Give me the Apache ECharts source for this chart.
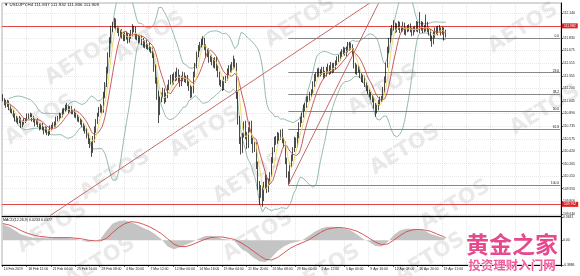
<!DOCTYPE html>
<html><head><meta charset="utf-8">
<script src="https://cdn.jsdelivr.net/npm/echarts@6/dist/echarts.min.js"></script>
<style>html,body{margin:0;padding:0;background:#fff}#c{width:580px;height:276px}</style>
</head><body><div id="c"></div>
<script>
// ---------- data (USDJPY H4) ----------
const firstOpen = 111.10;
const closes = [
111.06,111.02,110.99,111.03,110.97,110.93,110.91,110.87,110.83,110.81,
110.79,110.82,110.75,110.77,110.80,110.81,110.85,110.86,110.87,110.83,
110.81,110.77,110.79,110.75,110.72,110.74,110.71,110.67,110.69,110.65,
110.66,110.70,110.72,110.76,110.75,110.81,110.83,110.87,110.86,110.91,
110.93,110.96,110.97,110.93,110.95,110.91,110.92,110.88,110.86,110.82,
110.81,110.79,110.75,110.71,110.67,110.62,110.56,110.50,110.44,110.56,
110.69,110.79,110.87,110.93,110.96,110.93,111.12,111.25,111.43,111.62,
111.80,111.93,111.99,112.03,111.95,111.93,111.88,111.90,111.85,111.83,
111.87,111.84,111.80,111.85,111.89,111.95,111.93,111.85,111.83,111.80,
111.83,111.78,111.74,111.77,111.72,111.73,111.69,111.68,111.62,111.46,
111.31,111.12,110.91,111.06,111.12,111.16,111.06,111.12,111.21,111.28,
111.33,111.28,111.37,111.33,111.41,111.33,111.26,111.33,111.37,111.31,
111.33,111.26,111.21,111.12,111.18,111.37,111.49,111.62,111.71,111.74,
111.78,111.80,111.71,111.62,111.66,111.56,111.58,111.53,111.49,111.56,
111.46,111.37,111.28,111.25,111.21,111.31,111.33,111.41,111.46,111.43,
111.48,111.53,111.49,111.12,110.81,110.56,110.44,110.62,110.75,110.62,
110.50,110.69,110.75,110.56,110.44,110.50,110.25,110.00,109.88,109.96,
109.84,110.00,110.09,109.94,110.04,110.13,110.31,110.44,110.56,110.54,
110.62,110.59,110.65,110.56,110.50,110.31,110.13,110.06,110.25,110.34,
110.44,110.56,110.50,110.62,110.75,110.81,110.87,110.96,110.99,111.06,
111.08,111.12,111.16,111.25,111.33,111.37,111.41,111.38,111.41,111.43,
111.36,111.39,111.43,111.46,111.41,111.49,111.43,111.48,111.52,111.56,
111.59,111.62,111.66,111.68,111.64,111.68,111.71,111.74,111.71,111.66,
111.49,111.41,111.46,111.43,111.37,111.31,111.33,111.25,111.21,111.16,
111.12,111.10,111.06,110.99,110.93,110.96,111.03,111.06,111.08,111.18,
111.31,111.49,111.68,111.80,111.90,111.95,111.99,111.93,111.97,111.99,
111.93,111.95,111.98,111.90,111.93,111.95,111.97,111.93,111.89,111.93,
111.95,111.99,111.93,111.95,112.00,111.93,111.95,111.99,111.93,111.90,
111.83,111.78,111.87,111.93,111.90,111.95,111.93,111.90,111.93,111.837,
111.909];
const wickUp = [
.03,.02,.04,.03,.02,.03,.02,.03,.02,.03, .03,.04,.02,.03,.03,.02,.04,.03,.03,.02,
.03,.02,.03,.04,.02,.03,.03,.02,.04,.03, .03,.04,.03,.02,.03,.04,.03,.03,.02,.04,
.03,.04,.05,.02,.03,.03,.02,.03,.03,.02, .03,.02,.03,.02,.03,.04,.03,.02,.04,.05,
.04,.03,.03,.04,.05,.03,.04,.03,.04,.03, .04,.05,.04,.05,.04,.03,.04,.03,.04,.05,
.03,.04,.05,.03,.04,.05,.03,.04,.03,.04, .04,.03,.05,.03,.04,.03,.04,.03,.03,.04,
.04,.03,.05,.04,.03,.05,.04,.03,.04,.03, .04,.05,.03,.04,.05,.03,.04,.03,.04,.03,
.03,.04,.03,.04,.05,.04,.03,.04,.03,.04, .04,.05,.03,.04,.03,.04,.03,.04,.05,.03,
.04,.03,.04,.03,.05,.04,.03,.04,.03,.04, .05,.08,.04,.03,.04,.05,.04,.03,.04,.05,
.04,.03,.04,.05,.03,.04,.03,.04,.05,.04, .03,.04,.05,.03,.04,.03,.04,.03,.04,.05,
.04,.03,.04,.05,.03,.04,.03,.04,.03,.04, .03,.04,.03,.04,.03,.04,.03,.04,.03,.04,
.03,.04,.03,.04,.05,.03,.04,.05,.03,.04, .04,.03,.04,.05,.03,.04,.03,.04,.03,.04,
.03,.04,.03,.04,.03,.04,.07,.04,.03,.04, .04,.03,.04,.03,.04,.03,.04,.03,.04,.03,
.03,.04,.03,.04,.03,.04,.03,.04,.03,.04, .04,.03,.04,.03,.05,.04,.06,.03,.04,.05,
.04,.03,.05,.04,.03,.04,.03,.04,.03,.04, .03,.05,.04,.20,.04,.03,.04,.13,.04,.03,
.04,.03,.04,.03,.04,.03,.04,.03,.04,.03, .023];
const wickDn = [
.02,.03,.03,.02,.04,.03,.02,.03,.04,.03, .03,.02,.04,.03,.02,.03,.02,.03,.02,.04,
.03,.04,.02,.03,.04,.03,.03,.04,.02,.03, .04,.03,.02,.03,.04,.03,.02,.03,.03,.02,
.03,.02,.03,.04,.02,.03,.03,.04,.03,.03, .03,.04,.03,.04,.03,.04,.05,.04,.09,.04,
.03,.04,.03,.02,.03,.04,.03,.04,.03,.04, .03,.04,.03,.04,.03,.04,.03,.04,.03,.04,
.04,.03,.04,.03,.03,.04,.03,.04,.03,.04, .03,.04,.03,.04,.03,.04,.03,.04,.04,.05,
.05,.06,.14,.04,.03,.04,.05,.03,.04,.03, .03,.04,.03,.04,.03,.05,.04,.03,.04,.03,
.04,.03,.04,.04,.03,.04,.03,.04,.03,.04, .03,.04,.03,.04,.03,.04,.03,.04,.03,.04,
.04,.03,.04,.03,.04,.03,.04,.03,.04,.03, .03,.04,.03,.05,.06,.05,.06,.04,.03,.05,
.05,.04,.03,.05,.04,.03,.05,.06,.13,.04, .11,.04,.05,.04,.03,.04,.03,.04,.03,.04,
.03,.04,.03,.04,.03,.05,.04,.06,.04,.03, .04,.03,.04,.03,.04,.03,.04,.03,.04,.03,
.03,.04,.03,.04,.03,.04,.03,.04,.03,.04, .04,.03,.04,.03,.04,.03,.04,.03,.04,.03,
.03,.04,.03,.04,.03,.04,.03,.04,.03,.04, .04,.03,.04,.03,.04,.03,.04,.03,.04,.03,
.03,.04,.03,.04,.08,.04,.03,.04,.03,.04, .03,.04,.03,.04,.03,.04,.03,.04,.03,.04,
.04,.03,.04,.03,.04,.03,.04,.03,.04,.03, .03,.04,.03,.04,.03,.04,.03,.04,.03,.04,
.04,.06,.03,.04,.03,.04,.03,.04,.03,.04, .001];
const tickLabels = ['14 Feb 2019','18 Feb 12:00','21 Feb 04:00','25 Feb 16:00','28 Feb 08:00','4 Mar 20:00','7 Mar 12:00','12 Mar 00:00','14 Mar 16:00','19 Mar 04:00','21 Mar 20:00','26 Mar 08:00','29 Mar 00:00','2 Apr 12:00','5 Apr 04:00','9 Apr 16:00','12 Apr 08:00','16 Apr 20:00','19 Apr 12:00'];
const priceTicks = [109.640,109.800,109.955,110.110,110.265,110.420,110.575,110.735,110.890,111.045,111.200,111.355,111.515,111.675,111.830,112.140];
const macdIdx = [0,4,8,12,16,20,24,28,32,36,40,44,48,52,56,60,64,68,72,76,80,84,88,92,96,100,104,108,112,116,120,124,128,132,136,140,144,148,152,156,160,164,168,172,176,180,184,188,192,196,200,204,208,212,216,220,224,228,232,236,240,244,248,252,256,260,264,268,272,276,280,284,288,290];
const macdMain = [0.25,0.21,0.15,0.09,0.06,0.04,0.04,0.03,0.03,0.04,0.04,0.03,0.02,-0.01,-0.03,-0.01,0.02,0.15,0.26,0.30,0.31,0.28,0.24,0.19,0.15,0.09,0.01,-0.10,-0.14,-0.11,-0.07,-0.03,0.02,0.06,0.07,0.05,0.02,0.01,-0.02,-0.13,-0.19,-0.27,-0.33,-0.34,-0.27,-0.17,-0.10,-0.05,-0.03,0.00,0.06,0.13,0.18,0.21,0.21,0.20,0.18,0.15,0.09,0.02,-0.03,-0.09,-0.10,-0.03,0.08,0.15,0.18,0.18,0.17,0.15,0.10,0.07,0.04,0.0233];
const macdSignal = [0.26,0.24,0.20,0.15,0.11,0.08,0.06,0.05,0.04,0.04,0.04,0.04,0.03,0.02,0.00,-0.01,-0.01,0.03,0.12,0.20,0.26,0.29,0.28,0.25,0.21,0.16,0.10,0.02,-0.06,-0.10,-0.10,-0.07,-0.03,0.01,0.04,0.05,0.05,0.03,0.01,-0.04,-0.10,-0.17,-0.24,-0.30,-0.31,-0.27,-0.20,-0.13,-0.08,-0.04,0.00,0.06,0.12,0.17,0.19,0.20,0.19,0.17,0.14,0.09,0.03,-0.03,-0.07,-0.06,0.00,0.07,0.13,0.16,0.17,0.16,0.14,0.10,0.06,0.0377];
const macdTicks = [-0.3886, 0, 0.3631];
const hLines = [111.982, 109.762];
const lastPrice = 111.909;
const fibHigh = 111.830, fibLow = 110.00, fibStart = 187;
const fibLevels = [0, 23.6, 38.2, 50.0, 61.8, 100.0];
const trend1 = [[31, 109.62], [240, 112.26]];
const trend2 = [[187, 110.00], [246, 112.26]];
const header = '\u25BC USDJPY,H4 111.837 111.932 111.836 111.909';
const macdHeader = 'MACD(12,26,9) 0.0233 0.0377';
// ------------------------------------------------------------
const SLOTS = 366;
const cats = Array.from({length: SLOTS}, (_, i) => i);
const opens = closes.map((c, i) => i === 0 ? firstOpen : closes[i - 1]);
const candles = closes.map((c, i) => {
  const o = opens[i];
  return [o, c, +(Math.min(o, c) - wickDn[i]).toFixed(3), +(Math.max(o, c) + wickUp[i]).toFixed(3)];
});
function sma(p) {
  return closes.map((_, i) => {
    if (i < 2) return '-';
    const w = closes.slice(Math.max(0, i - p + 1), i + 1);
    return +(w.reduce((a, b) => a + b, 0) / w.length).toFixed(4);
  });
}
function band(p, k, sign) {
  return closes.map((_, i) => {
    if (i < 4) return '-';
    const w = closes.slice(Math.max(0, i - p + 1), i + 1);
    const m = w.reduce((a, b) => a + b, 0) / w.length;
    const sd = Math.sqrt(w.reduce((a, b) => a + (b - m) * (b - m), 0) / w.length);
    return +(m + sign * k * sd).toFixed(4);
  });
}
const FONT = 'Liberation Sans';
const small = {fontSize: 3.4, fontFamily: FONT, color: '#222'};
const gridLine = {show: true, lineStyle: {color: '#d8d8d8', type: [1, 1], width: 0.6}};
const vInterval = (idx) => idx % 16 === 0;

const fibLines = fibLevels.map(l => {
  const price = +(fibHigh - (fibHigh - fibLow) * l / 100).toFixed(3);
  return [{coord: [fibStart, price], name: l.toFixed(1)}, {coord: [SLOTS - 1, price]}];
});

const watermarks = [[150,37],[205,132],[248,178],[300,22],[383,90],[405,150],[455,205],[523,28],[545,110],[52,228],[100,262],[258,236],[325,270],[430,258],[40,120],[80,60],[115,175]];

const option = {
  animation: false,
  backgroundColor: '#fff',
  graphic: [
    ...watermarks.map(p => ({type: 'text', x: p[0], y: p[1], rotation: 0.55, z: 0,
      style: {text: 'AETOS', fontSize: 21, fontWeight: 'bold', fontFamily: 'DejaVu Sans', fill: 'rgba(0,0,0,0.085)', align: 'center', verticalAlign: 'middle'}})),
    {type: 'text', x: 4, y: 3, z: 10, style: {text: header, fontSize: 4.4, fontFamily: FONT, fill: '#111'}},
    {type: 'text', x: 3, y: 218, z: 10, style: {text: macdHeader, fontSize: 3.6, fontFamily: FONT, fill: '#111'}},
    {type: 'text', x: 512, y: 244, z: 20, style: {text: '黄金之家', fontSize: 23, fontWeight: 'bold', fontFamily: 'Noto Sans CJK SC', fill: '#e6498c', stroke: '#fff', lineWidth: 1, align: 'center', verticalAlign: 'middle'}},
    {type: 'text', x: 512, y: 265, z: 20, style: {text: '投资理财入门网', fontSize: 12.5, fontWeight: 'bold', fontFamily: 'Noto Sans CJK SC', fill: '#ee5e9a', stroke: '#fff', lineWidth: 1, align: 'center', verticalAlign: 'middle'}}
  ],
  grid: [
    {left: 2, right: 19, top: 3, height: 213, show: true, borderColor: '#999', borderWidth: 0.8},
    {left: 2, right: 19, top: 217, height: 48, show: true, borderColor: '#999', borderWidth: 0.8}
  ],
  xAxis: [
    {type: 'category', gridIndex: 0, data: cats, boundaryGap: true,
     axisLine: {show: true, onZero: false, lineStyle: {color: '#000', width: 1}}, axisTick: {show: false}, axisLabel: {show: false},
     splitLine: Object.assign({interval: vInterval}, gridLine)},
    {type: 'category', gridIndex: 1, data: cats, boundaryGap: true,
     axisLine: {show: true, onZero: false, lineStyle: {color: '#000', width: 1}},
     axisTick: {show: true, interval: (i) => i % 16 === 0 && i / 16 < tickLabels.length, length: 2, lineStyle: {color: '#000', width: 0.6}},
     axisLabel: Object.assign({show: true, interval: (i) => i % 16 === 0 && i / 16 < tickLabels.length,
       formatter: (v, i) => tickLabels[Math.round(i / 16)] || '', align: 'left', margin: 3, padding: [0, 0, 0, 1]}, small),
     splitLine: Object.assign({interval: vInterval}, gridLine)}
  ],
  yAxis: [
    {type: 'value', gridIndex: 0, position: 'right', min: 109.615, max: 112.264, scale: true,
     axisLine: {show: true, lineStyle: {color: '#000', width: 1}},
     axisTick: {show: true, customValues: priceTicks, length: 2, lineStyle: {color: '#000', width: 0.6}},
     axisLabel: Object.assign({customValues: priceTicks, formatter: v => v.toFixed(3), margin: 2}, small),
     splitLine: gridLine},
    {type: 'value', gridIndex: 1, position: 'right', min: macdTicks[0], max: macdTicks[2],
     axisLine: {show: true, lineStyle: {color: '#000', width: 1}},
     axisTick: {show: true, customValues: macdTicks, length: 2, lineStyle: {color: '#000', width: 0.6}},
     axisLabel: Object.assign({customValues: macdTicks, formatter: v => v === 0 ? '0.00' : String(v), margin: 2}, small),
     splitLine: {show: false}}
  ],
  series: [
    {type: 'candlestick', xAxisIndex: 0, yAxisIndex: 0, data: candles, barWidth: 1.1, z: 5,
     itemStyle: {color: '#fff', color0: '#000', borderColor: '#000', borderColor0: '#000', borderWidth: 0.7},
     markLine: {symbol: 'none', silent: true, z: 4,
       data: [
         ...fibLines.map(d => [Object.assign({}, d[0], {label: {show: true, formatter: '{b}', position: 'insideEndTop', distance: [1, 0.5], fontSize: 3.4, fontFamily: FONT, color: '#222'}, lineStyle: {color: '#7a7a7a', width: 0.9, type: 'solid'}}), d[1]]),
         ...hLines.map(v => ({yAxis: v, lineStyle: {color: '#e04848', width: 1, type: 'solid'},
           label: {show: true, position: 'end', distance: 1, formatter: v.toFixed(3), fontSize: 3.4, fontFamily: FONT, color: '#fff', backgroundColor: '#e02020', padding: [1, 2]}})),
         {yAxis: lastPrice, lineStyle: {opacity: 0},
           label: {show: true, position: 'end', distance: 1, formatter: lastPrice.toFixed(3), fontSize: 3.4, fontFamily: FONT, color: '#fff', backgroundColor: '#000', padding: [1, 2]}}
       ]}},
    {type: 'line', xAxisIndex: 0, yAxisIndex: 0, data: band(20, 2, 1), showSymbol: false, smooth: false, lineStyle: {color: '#8cb3a6', width: 0.9}, z: 3},
    {type: 'line', xAxisIndex: 0, yAxisIndex: 0, data: band(20, 2, -1), showSymbol: false, lineStyle: {color: '#8cb3a6', width: 0.9}, z: 3},
    {type: 'line', xAxisIndex: 0, yAxisIndex: 0, data: sma(10), showSymbol: false, lineStyle: {color: '#c84848', width: 0.9}, z: 6},
    {type: 'line', xAxisIndex: 0, yAxisIndex: 0, data: sma(5), showSymbol: false, lineStyle: {color: '#ecd860', width: 0.9}, z: 6},
    {type: 'line', xAxisIndex: 0, yAxisIndex: 0, data: trend1, showSymbol: false, lineStyle: {color: '#c05a5a', width: 0.9}, z: 7, clip: true},
    {type: 'line', xAxisIndex: 0, yAxisIndex: 0, data: trend2, showSymbol: false, lineStyle: {color: '#c05a5a', width: 0.9}, z: 7, clip: true},
    {type: 'line', xAxisIndex: 1, yAxisIndex: 1, data: macdIdx.map((x, k) => [x, macdMain[k]]), showSymbol: false,
     lineStyle: {width: 0}, areaStyle: {color: '#c4c4c4', opacity: 1}, z: 3},
    {type: 'line', xAxisIndex: 1, yAxisIndex: 1, data: macdIdx.map((x, k) => [x, macdSignal[k]]), showSymbol: false,
     lineStyle: {color: '#d04848', width: 0.9}, z: 4}
  ]
};
echarts.init(document.getElementById('c'), null, {renderer: 'canvas'}).setOption(option);
</script>
</body></html>
